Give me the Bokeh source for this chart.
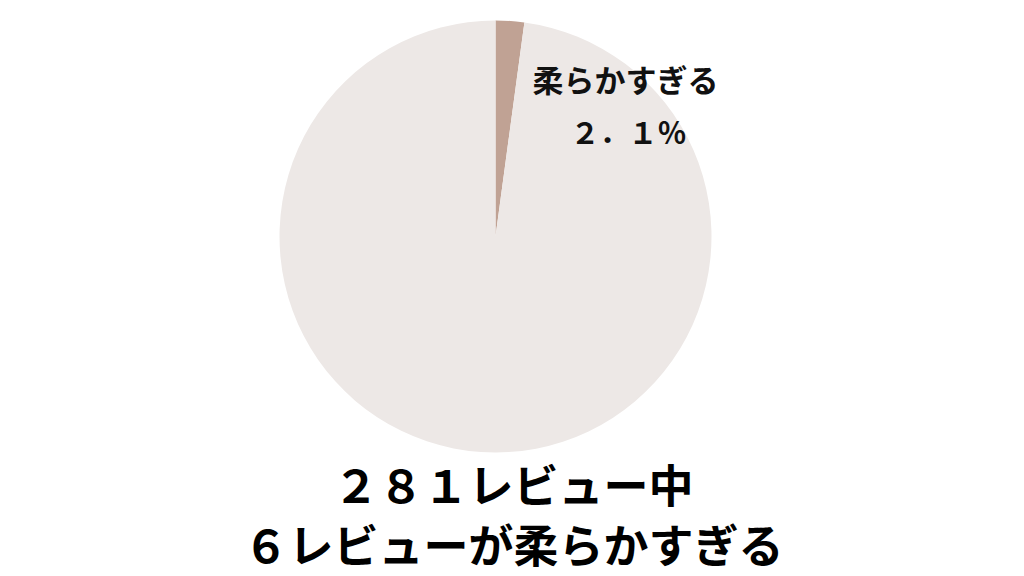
import numpy as np
from bokeh.core.properties import value
from bokeh.embed import file_html
from bokeh.models import ColumnDataSource, Range1d
from bokeh.plotting import figure
from bokeh.resources import INLINE

# data
labels = ["柔らかすぎる", "その他"]
counts = [6, 275]
colors = ["#c0a294", "#ede8e6"]
slice_label = "柔らかすぎる"
slice_pct = "２．１％"
caption_lines = ["２８１レビュー中", "６レビューが柔らかすぎる"]

W, H = 1024, 576
cx, cy, r = 495, 340, 216

fracs = np.array(counts) / sum(counts)
ends = np.pi / 2 - 2 * np.pi * np.concatenate([[0], np.cumsum(fracs)[:-1]])
starts = ends - 2 * np.pi * fracs

src = ColumnDataSource(dict(label=labels, start=starts, end=ends, color=colors))

p = figure(width=W, height=H, x_range=Range1d(0, W), y_range=Range1d(0, H),
           output_backend="svg", toolbar_location=None)
p.axis.visible = False
p.grid.visible = False
p.outline_line_color = None
p.min_border = 0

p.wedge(x=cx, y=cy, radius=r, start_angle="start", end_angle="end",
        direction="anticlock", fill_color="color", line_color=None, source=src)

font = value("Noto Sans CJK JP")
p.text(x=[625], y=[498], text=[slice_label], text_font=font, text_font_size="31px",
       text_font_style="bold", text_align="center", text_baseline="middle", text_color="#111111")
p.text(x=[628], y=[446], text=[slice_pct], text_font=font, text_font_size="29px",
       text_font_style="bold", text_align="center", text_baseline="middle", text_color="#111111")
p.text(x=[513, 513], y=[93, 33], text=caption_lines, text_font=font, text_font_size="45px",
       text_font_style="bold", text_align="center", text_baseline="middle", text_color="#000000")

open("out.html", "w").write(file_html(p, INLINE))
